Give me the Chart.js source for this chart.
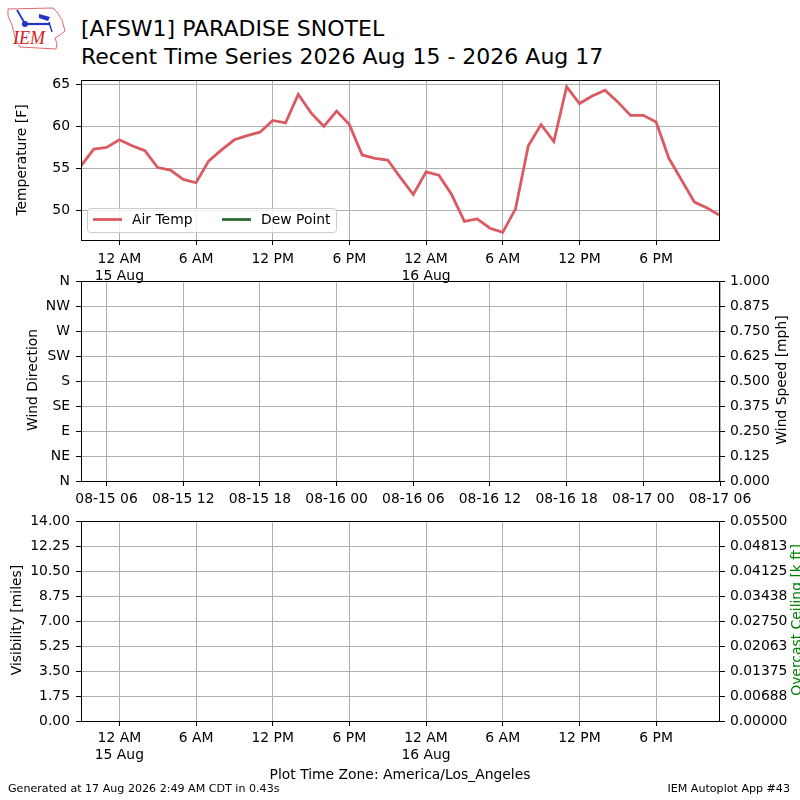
<!DOCTYPE html>
<html>
<head>
<meta charset="utf-8">
<script src="https://cdn.jsdelivr.net/npm/chart.js@4.4.1/dist/chart.umd.min.js"></script>
<style>
body { margin:0; width:800px; height:800px; overflow:hidden; background:#fff; position:relative; font-family:'DejaVu Sans', sans-serif; color:#000; }
canvas { position:absolute; left:0; }
.txt { position:absolute; white-space:nowrap; }
.vlab { position:absolute; white-space:nowrap; font-size:13.9px; line-height:13.9px; transform:translate(-50%,-50%) rotate(-90deg); }
</style>
</head>
<body>
<svg width="70" height="56" style="position:absolute;left:0;top:0">
  <polyline points="8,9 53,8 57,12 62,20 65,31 60,35 55,38 57,44 56,49 20,47 18,44 15,37 12,25 8,16 8,9" fill="none" stroke="#e06a6a" stroke-width="1"/>
  <line x1="17" y1="10" x2="24" y2="22" stroke="#2233cc" stroke-width="1.8"/>
  <line x1="22" y1="24" x2="49" y2="24" stroke="#2233cc" stroke-width="2.2"/>
  <circle cx="25" cy="24" r="3" fill="#2233cc"/>
  <polygon points="39,14 50,17 48,21 39,18" fill="#2233cc"/>
  <line x1="49" y1="22" x2="52" y2="32" stroke="#2233cc" stroke-width="1.4"/>
  <text x="13" y="44" font-family="Liberation Serif" font-style="italic" font-size="18" fill="#d42020">IEM</text>
</svg>
<div class="txt" style="left:81px;top:15px;font-size:22px;line-height:27.6px">[AFSW1] PARADISE SNOTEL<br>Recent Time Series 2026 Aug 15 - 2026 Aug 17</div>

<canvas id="tempChart" width="800" height="220" style="top:70px"></canvas>
<canvas id="windChart" width="800" height="240" style="top:271px"></canvas>
<canvas id="visChart" width="800" height="260" style="top:511px"></canvas>

<div class="vlab" style="left:22px;top:160px">Temperature [F]</div>
<div class="vlab" style="left:33px;top:380px">Wind Direction</div>
<div class="vlab" style="left:17px;top:620px">Visibility [miles]</div>
<div class="vlab" style="left:782px;top:380px">Wind Speed [mph]</div>
<div class="vlab" style="left:797px;top:620px;color:#008000">Overcast Ceiling [k ft]</div>

<div class="txt" style="left:0;width:800px;text-align:center;top:768px;font-size:13.9px;line-height:13.9px">Plot Time Zone: America/Los_Angeles</div>
<div class="txt" style="left:8px;top:783px;font-size:11.1px;line-height:11.1px">Generated at 17 Aug 2026 2:49 AM CDT in 0.43s</div>
<div class="txt" style="right:10px;top:783px;font-size:11.1px;line-height:11.1px">IEM Autoplot App #43</div>

<script>
// hours since 12 AM 15 Aug (America/Los_Angeles)
const hours = [-3,-2,-1,0,1,2,3,4,5,6,7,8,9,10,11,12,13,14,15,16,17,18,19,20,21,22,23,
  24,25,26,27,28,29,30,31,32,33,34,35,36,37,38,39,40,41,42,43,44,45,46,47];
const airTemp = [55.3,57.3,57.5,58.4,57.7,57.1,55.1,54.8,53.7,53.3,55.9,57.2,58.4,58.9,59.3,60.7,60.4,63.8,61.6,60.0,61.8,60.2,56.6,56.2,56.0,53.9,51.9,
  54.6,54.2,51.9,48.7,49.0,47.9,47.4,50.2,57.7,60.2,58.2,64.7,62.7,63.6,64.3,62.9,61.3,61.3,60.5,56.2,53.6,51.0,50.3,49.4];
const dewPoint = [];

const localTickHours = [0,6,12,18,24,30,36,42];
const localTickLabels = [['12 AM','15 Aug'],'6 AM','12 PM','6 PM',['12 AM','16 Aug'],'6 AM','12 PM','6 PM'];
const utcTickHours = [-1,5,11,17,23,29,35,41,47];
const utcTickLabels = ['08-15 06','08-15 12','08-15 18','08-16 00','08-16 06','08-16 12','08-16 18','08-17 00','08-17 06'];

const tempTicks = [50,55,60,65];
const tempLabels = ['50','55','60','65'];
const dirTicks = [0,45,90,135,180,225,270,315,360];
const dirLabels = ['N','NE','E','SE','S','SW','W','NW','N'];
const speedTicks = [0,0.125,0.25,0.375,0.5,0.625,0.75,0.875,1];
const speedLabels = ['0.000','0.125','0.250','0.375','0.500','0.625','0.750','0.875','1.000'];
const visTicks = [0,1.75,3.5,5.25,7,8.75,10.5,12.25,14];
const visLabels = ['0.00','1.75','3.50','5.25','7.00','8.75','10.50','12.25','14.00'];
const ceilTicks = [0,0.006875,0.01375,0.020625,0.0275,0.034375,0.04125,0.048125,0.055];
const ceilLabels = ['0.00000','0.00688','0.01375','0.02063','0.02750','0.03438','0.04125','0.04813','0.05500'];

Chart.defaults.font.family = "'DejaVu Sans', sans-serif";
Chart.defaults.font.size = 13.9;
Chart.defaults.color = '#000';

function axis(o) {
    return {
        type: 'linear',
        position: o.position,
        min: o.min,
        max: o.max,
        border: { display: false },
        grid: { color: '#b0b0b0', lineWidth: 1, tickColor: '#000', tickLength: 5, drawOnChartArea: o.grid !== false },
        ticks: { autoSkip: false, maxRotation: 0, minRotation: 0, padding: o.pad, callback: (v, i) => o.labels[i] },
        afterBuildTicks: (s) => { s.ticks = o.values.map(v => ({ value: v })); },
        afterFit: (s) => {
            if (s.isHorizontal()) s.height = o.size; else s.width = o.size;
            s.paddingLeft = 0; s.paddingRight = 0; s.paddingTop = 0; s.paddingBottom = 0;
        }
    };
}

// black frame round the plot area, like matplotlib spines
const frame = {
    id: 'frame',
    afterDraw(chart) {
        const a = chart.chartArea, ctx = chart.ctx;
        ctx.save();
        ctx.strokeStyle = '#000';
        ctx.lineWidth = 1;
        ctx.strokeRect(Math.round(a.left) + 0.5, Math.round(a.top) + 0.5, Math.round(a.right - a.left) - 1, Math.round(a.bottom - a.top));
        ctx.restore();
    }
};

// legend drawn inside the lower left of the plot
const insideLegend = {
    id: 'insideLegend',
    afterDatasetsDraw(chart) {
        const a = chart.chartArea, ctx = chart.ctx;
        const x = a.left + 6.5, y = a.bottom - 31.5, w = 249, h = 24;
        ctx.save();
        ctx.beginPath();
        ctx.roundRect(x, y, w, h, 3);
        ctx.fillStyle = 'rgba(255,255,255,0.8)';
        ctx.fill();
        ctx.strokeStyle = '#cccccc';
        ctx.lineWidth = 1;
        ctx.stroke();
        ctx.font = "13.9px 'DejaVu Sans'";
        ctx.textBaseline = 'middle';
        chart.data.datasets.forEach((ds, i) => {
            const lx = x + 5.5 + i * 129;
            ctx.strokeStyle = ds.borderColor;
            ctx.lineWidth = 2.8;
            ctx.beginPath();
            ctx.moveTo(lx, y + 11);
            ctx.lineTo(lx + 29, y + 11);
            ctx.stroke();
            ctx.fillStyle = '#000';
            ctx.fillText(ds.label, lx + 39, y + 12);
        });
        ctx.restore();
    }
};

const common = {
    responsive: false,
    animation: false,
    plugins: { legend: { display: false }, tooltip: { enabled: false } }
};

new Chart(document.getElementById('tempChart'), {
    type: 'line',
    data: {
        datasets: [{
            label: 'Air Temp',
            data: hours.map((h, i) => ({ x: h, y: airTemp[i] })),
            borderColor: '#db5a62',
            borderWidth: 2.8,
            pointRadius: 0,
            tension: 0
        }, {
            label: 'Dew Point',
            data: dewPoint,
            borderColor: '#2e6b2e',
            borderWidth: 2.8,
            pointRadius: 0
        }]
    },
    options: {
        ...common,
        layout: { padding: { top: 10, right: 80, left: 0, bottom: 0 } },
        scales: {
            x: axis({ position: 'bottom', min: -3, max: 47, values: localTickHours, labels: localTickLabels, size: 50, pad: 6 }),
            y: axis({ position: 'left', min: 46.5, max: 65.5, values: tempTicks, labels: tempLabels, size: 81, pad: 6 })
        }
    },
    plugins: [frame, insideLegend]
});

new Chart(document.getElementById('windChart'), {
    type: 'line',
    data: { datasets: [] },
    options: {
        ...common,
        layout: { padding: { top: 10, right: 0, left: 0, bottom: 0 } },
        scales: {
            x: axis({ position: 'bottom', min: -3, max: 47, values: utcTickHours, labels: utcTickLabels, size: 30, pad: 5 }),
            y: axis({ position: 'left', min: 0, max: 360, values: dirTicks, labels: dirLabels, size: 81, pad: 6 }),
            y1: axis({ position: 'right', min: 0, max: 1, values: speedTicks, labels: speedLabels, size: 80, pad: 5, grid: false })
        }
    },
    plugins: [frame]
});

new Chart(document.getElementById('visChart'), {
    type: 'line',
    data: { datasets: [] },
    options: {
        ...common,
        layout: { padding: { top: 10, right: 0, left: 0, bottom: 0 } },
        scales: {
            x: axis({ position: 'bottom', min: -3, max: 47, values: localTickHours, labels: localTickLabels, size: 50, pad: 4 }),
            y: axis({ position: 'left', min: 0, max: 14, values: visTicks, labels: visLabels, size: 81, pad: 6 }),
            y1: axis({ position: 'right', min: 0, max: 0.055, values: ceilTicks, labels: ceilLabels, size: 80, pad: 5, grid: false })
        }
    },
    plugins: [frame]
});
</script>
</body>
</html>
